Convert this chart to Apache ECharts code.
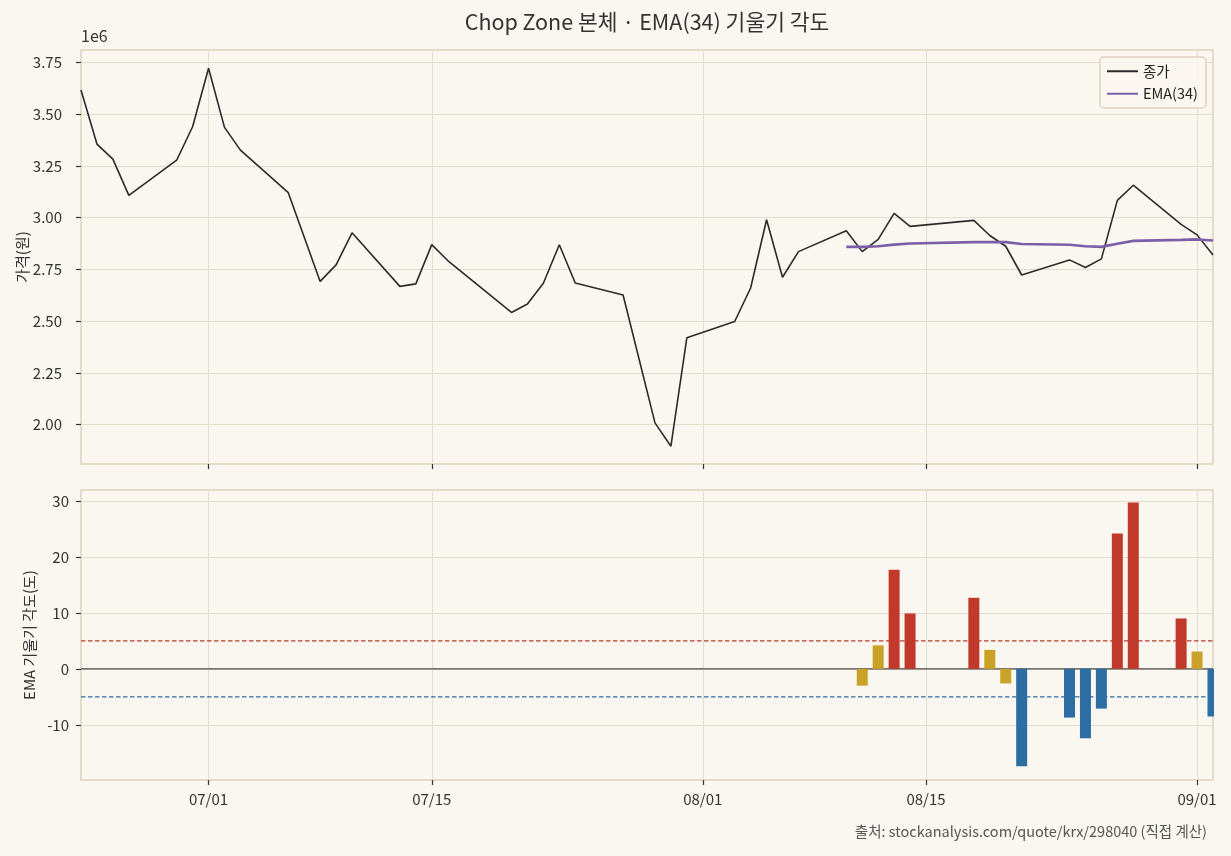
<!DOCTYPE html>
<html>
    <head>
        <meta charset="utf-8">
        <script src="https://cdn.jsdelivr.net/npm/echarts@6/dist/echarts.min.js"></script>
    </head>
    <body>
        <style>
            html, body, #main {
                width: 100%;
                height: 100%;
                margin: 0;
                background: #faf7f0;
            }
        </style>
        <div id="main"></div>
        <script>
            // trading days (2026), MM/DD
            var dates = ['06/23', '06/24', '06/25', '06/26', '06/29', '06/30', '07/01', '07/02', '07/03',
                '07/06', '07/08', '07/09', '07/10', '07/13', '07/14', '07/15', '07/16', '07/20', '07/21',
                '07/22', '07/23', '07/24', '07/27', '07/29', '07/30', '07/31', '08/03', '08/04', '08/05',
                '08/06', '08/07', '08/10', '08/11', '08/12', '08/13', '08/14', '08/18', '08/19', '08/20',
                '08/21', '08/24', '08/25', '08/26', '08/27', '08/28', '08/31', '09/01', '09/02'];

            // close price (won)
            var close = [3618000, 3356000, 3283000, 3108000, 3278000, 3440000, 3723000, 3437000, 3327000,
                3121000, 2692000, 2772000, 2927000, 2668000, 2680000, 2870000, 2793000, 2542000, 2583000,
                2683000, 2869000, 2684000, 2626000, 2008000, 1895000, 2420000, 2498000, 2660000, 2990000,
                2712000, 2836000, 2937000, 2836000, 2895000, 3021000, 2958000, 2987000, 2914000, 2862000,
                2723000, 2796000, 2759000, 2801000, 3084000, 3157000, 2968000, 2917000, 2820000];

            // EMA(34), starts 08/10
            var emaStart = '08/10';
            var ema = [2859000, 2859000, 2862000, 2870000, 2875000, 2882000, 2882000, 2882000, 2873000,
                2869000, 2862000, 2859000, 2874000, 2888000, 2893000, 2895000, 2890000];

            // EMA slope angle (deg), starts 08/11
            var angleStart = '08/11';
            var angle = [-3.0, 4.2, 17.7, 9.9, 12.7, 3.4, -2.6, -17.4, -8.7, -12.4, -7.1, 24.2, 29.7,
                9.0, 3.1, -8.5];

            var tickDates = ['07/01', '07/15', '08/01', '08/15', '09/01'];
            var priceTicks = [2.00, 2.25, 2.50, 2.75, 3.00, 3.25, 3.50, 3.75];
            var angleTicks = [-10, 0, 10, 20, 30];
            var upper = 5, lower = -5;

            function ts(md) {
                var p = md.split('/');
                return Date.UTC(2026, +p[0] - 1, +p[1]);
            }
            function fmt(v) {
                var d = new Date(v);
                var m = d.getUTCMonth() + 1, day = d.getUTCDate();
                return (m < 10 ? '0' : '') + m + '/' + (day < 10 ? '0' : '') + day;
            }

            var closeData = dates.map(function (d, i) { return [ts(d), close[i]]; });
            var e0 = dates.indexOf(emaStart);
            var emaData = ema.map(function (v, i) { return [ts(dates[e0 + i]), v]; });
            var a0 = dates.indexOf(angleStart);
            var angleData = angle.map(function (v, i) {
                return {
                    value: [ts(dates[a0 + i]), v],
                    itemStyle: { color: v > upper ? '#c0392b' : (v < lower ? '#2c6ea4' : '#c9a227') }
                };
            });

            var xMin = ts(dates[0]), xMax = ts(dates[dates.length - 1]);
            var tickTs = tickDates.map(ts);

            var font = '"Noto Sans CJK KR", "Noto Sans", sans-serif';
            var bg = '#faf7f0';
            var gridLine = { show: true, lineStyle: { color: '#e4ddcb', width: 1 } };

            function xAxis(idx, showLabel) {
                return {
                    type: 'value', gridIndex: idx, min: xMin, max: xMax,
                    axisLine: { show: false, onZero: false },
                    axisTick: { show: true, length: 5, customValues: tickTs, lineStyle: { color: '#333', width: 1.2 } },
                    axisLabel: {
                        show: showLabel, customValues: tickTs, formatter: fmt,
                        color: '#333', fontSize: 15, fontFamily: font, margin: 12
                    },
                    splitLine: gridLine
                };
            }

            // horizontal reference line across the angle panel
            function refLine(val, color, type, width) {
                return {
                    type: 'line', xAxisIndex: 1, yAxisIndex: 1, silent: true,
                    symbol: 'none', z: 1,
                    data: [[xMin, val], [xMax, val]],
                    lineStyle: { color: color, type: type, width: width },
                    emphasis: { disabled: true }
                };
            }

            var chart = echarts.init(document.getElementById('main'));

            var option = {
                backgroundColor: bg,
                animation: false,
                textStyle: { fontFamily: font },
                grid: [
                    { left: 81, right: 18, top: 50, height: 414, show: true, borderColor: '#ddd3bc', borderWidth: 1.5, backgroundColor: 'transparent' },
                    { left: 81, right: 18, top: 490, height: 290, show: true, borderColor: '#ddd3bc', borderWidth: 1.5, backgroundColor: 'transparent' }
                ],
                xAxis: [xAxis(0, false), xAxis(1, true)],
                yAxis: [
                    {
                        type: 'value', gridIndex: 0, min: 1809000, max: 3811000,
                        name: '가격(원)', nameLocation: 'middle', nameGap: 51, nameRotate: 90,
                        nameMoveOverlap: false,
                        nameTextStyle: { color: '#333', fontSize: 15, fontFamily: font },
                        axisLine: { show: false },
                        axisTick: { show: true, length: 5, customValues: priceTicks.map(function (v) { return v * 1e6; }), lineStyle: { color: '#333', width: 1.2 } },
                        axisLabel: {
                            customValues: priceTicks.map(function (v) { return v * 1e6; }),
                            formatter: function (v) { return (v / 1e6).toFixed(2); },
                            color: '#333', fontSize: 15, fontFamily: font, margin: 19
                        },
                        splitLine: gridLine
                    },
                    {
                        type: 'value', gridIndex: 1, min: -19.85, max: 31.95,
                        name: 'EMA 기울기 각도(도)', nameLocation: 'middle', nameGap: 44, nameRotate: 90,
                        nameMoveOverlap: false,
                        nameTextStyle: { color: '#333', fontSize: 15, fontFamily: font },
                        axisLine: { show: false },
                        axisTick: { show: true, length: 5, customValues: angleTicks, lineStyle: { color: '#333', width: 1.2 } },
                        axisLabel: {
                            customValues: angleTicks,
                            color: '#333', fontSize: 15, fontFamily: font, margin: 12
                        },
                        splitLine: gridLine
                    }
                ],
                legend: {
                    right: 25, top: 57, orient: 'vertical',
                    itemWidth: 31, itemHeight: 12, itemGap: 8,
                    padding: [7, 8, 7, 6],
                    backgroundColor: 'rgba(250,247,240,0.85)', borderColor: '#ddd3bc', borderWidth: 1.5, borderRadius: 4,
                    itemStyle: { opacity: 0 },
                    textStyle: { color: '#222', fontSize: 14.5, fontFamily: font },
                    data: ['종가', 'EMA(34)']
                },
                graphic: [
                    {
                        type: 'text', x: 647, y: 11,
                        style: { text: 'Chop Zone 본체 · EMA(34) 기울기 각도', fill: '#333', font: '21.5px ' + font, textAlign: 'center' }
                    },
                    {
                        type: 'text', x: 81, y: 28,
                        style: { text: '1e6', fill: '#333', font: '16px ' + font, textAlign: 'left' }
                    },
                    {
                        type: 'text', x: 1207, y: 824,
                        style: { text: '출처: stockanalysis.com/quote/krx/298040 (직접 계산)', fill: '#555', font: '14.5px ' + font, textAlign: 'right' }
                    },
                    {
                        // mask the half of the last bar that falls past the right edge
                        type: 'rect', z: 100, silent: true,
                        shape: { x: 1214, y: 485, width: 20, height: 300 },
                        style: { fill: bg }
                    }
                ],
                series: [
                    {
                        name: '종가', type: 'line', xAxisIndex: 0, yAxisIndex: 0,
                        symbol: 'none', data: closeData,
                        lineStyle: { color: '#2b2b2b', width: 1.6 }, itemStyle: { color: '#2b2b2b' }
                    },
                    {
                        name: 'EMA(34)', type: 'line', xAxisIndex: 0, yAxisIndex: 0,
                        symbol: 'none', data: emaData,
                        lineStyle: { color: '#7b5ea7', width: 2.6 }, itemStyle: { color: '#7b5ea7' }
                    },
                    refLine(upper, '#c0392b', [4.5, 2.5], 1.3),
                    refLine(lower, '#2c6ea4', [4.5, 2.5], 1.3),
                    refLine(0, '#4a4a4a', 'solid', 1.2),
                    {
                        name: '각도', type: 'bar', xAxisIndex: 1, yAxisIndex: 1,
                        barWidth: 11, data: angleData, z: 3
                    }
                ]
            };

            chart.setOption(option);

            window.onresize = function () {
                chart.resize();
            }
        </script>
    </body>
</html>
